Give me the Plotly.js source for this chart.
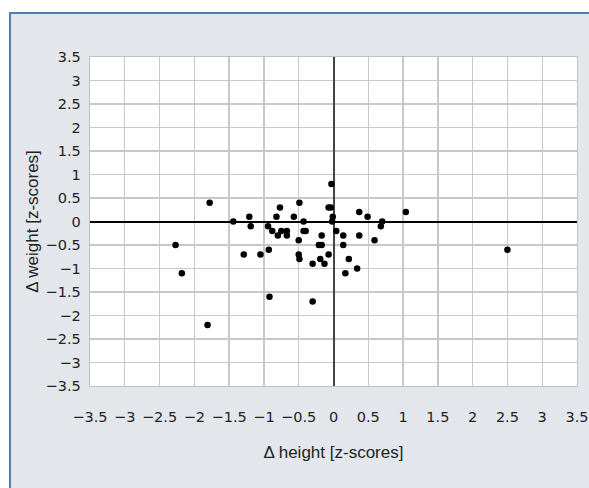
<!DOCTYPE html>
<html>
<head>
<meta charset="utf-8">
<script src="https://cdn.plot.ly/plotly-3.0.1.min.js"></script>
<style>
  html, body { margin: 0; padding: 0; background: #ffffff; width: 589px; height: 488px; overflow: hidden; }
  #panel { position: absolute; left: 9px; top: 12px; width: 580px; height: 476px;
           background: #e3e7ec; border-left: 2px solid #4f80b0; border-top: 2px solid #4f80b0; box-sizing: border-box; }
  #chart { position: absolute; left: 0; top: 0; width: 589px; height: 488px; }
</style>
</head>
<body>
<div id="panel"></div>
<div id="chart"></div>
<script>
// Δ height (z-scores)
const heightZ = [-0.03, -1.78, -0.77, -0.49, -0.07, -0.04, -1.21, -0.82, -0.57, -0.01,
                 0.37, 0.49, 1.04, -1.44, -0.43, -0.02, 0.70, 0.68, -1.19, -0.94,
                 -0.88, -0.80, -0.75, -0.67, -0.67, -0.43, -0.40, 0.04, -0.17, 0.14,
                 0.37, -0.50, 0.59, -0.21, -0.17, 0.14, -1.29, -1.05, -0.93, -0.50,
                 -0.49, -0.07, 0.22, -0.19, -0.30, -0.13, 0.34, 0.17, -2.18, -0.92,
                 -0.30, -2.27, -1.81, 2.50];
// Δ weight (z-scores)
const weightZ = [0.80, 0.40, 0.30, 0.40, 0.30, 0.30, 0.10, 0.10, 0.10, 0.10,
                 0.20, 0.10, 0.20, 0.00, 0.00, 0.00, 0.00, -0.10, -0.10, -0.10,
                 -0.20, -0.30, -0.20, -0.20, -0.30, -0.20, -0.20, -0.20, -0.30, -0.30,
                 -0.30, -0.40, -0.40, -0.50, -0.50, -0.50, -0.70, -0.70, -0.60, -0.70,
                 -0.80, -0.70, -0.80, -0.80, -0.90, -0.90, -1.00, -1.10, -1.10, -1.60,
                 -1.70, -0.50, -2.20, -0.60];

const tickVals = [-3.5, -3, -2.5, -2, -1.5, -1, -0.5, 0, 0.5, 1, 1.5, 2, 2.5, 3, 3.5];
const tickText = ["\u22123.5", "\u22123", "\u22122.5", "\u22122", "\u22121.5", "\u22121", "\u22120.5",
                  "0", "0.5", "1", "1.5", "2", "2.5", "3", "3.5"];
const xTitle = "\u0394 height [z-scores]";
const yTitle = "\u0394 weight [z-scores]";

const tickFont = { family: "DejaVu Sans, sans-serif", size: 14.5, color: "#222222" };
const titleFont = { family: "Liberation Sans, Arial, sans-serif", size: 17, color: "#222222" };

const trace = {
  type: "scatter", mode: "markers",
  x: heightZ, y: weightZ,
  marker: { color: "#000000", size: 6.5 },
  hoverinfo: "x+y"
};

const axisCommon = {
  range: [-3.5, 3.5],
  tickmode: "array", tickvals: tickVals, ticktext: tickText,
  showgrid: true, gridcolor: "#c8c8c8", gridwidth: 1.3,
  zeroline: true, zerolinewidth: 2,
  showline: true, linecolor: "#c0c0c0", linewidth: 1.3, mirror: true,
  ticks: "outside", tickcolor: "rgba(0,0,0,0)",
  tickfont: tickFont, fixedrange: true
};

const layout = {
  width: 589, height: 488,
  margin: { l: 90, r: 12, t: 57, b: 102 },
  paper_bgcolor: "rgba(0,0,0,0)",
  plot_bgcolor: "#ffffff",
  showlegend: false,
  font: tickFont,
  xaxis: Object.assign({}, axisCommon, {
    ticklen: 17, zerolinecolor: "#444444",
    title: { text: xTitle, font: titleFont, standoff: 22 }
  }),
  yaxis: Object.assign({}, axisCommon, {
    ticklen: 5, zerolinecolor: "#000000",
    title: { text: yTitle, font: titleFont, standoff: 2 }
  })
};

Plotly.newPlot("chart", [trace], layout, { displayModeBar: false, staticPlot: true });
</script>
</body>
</html>
